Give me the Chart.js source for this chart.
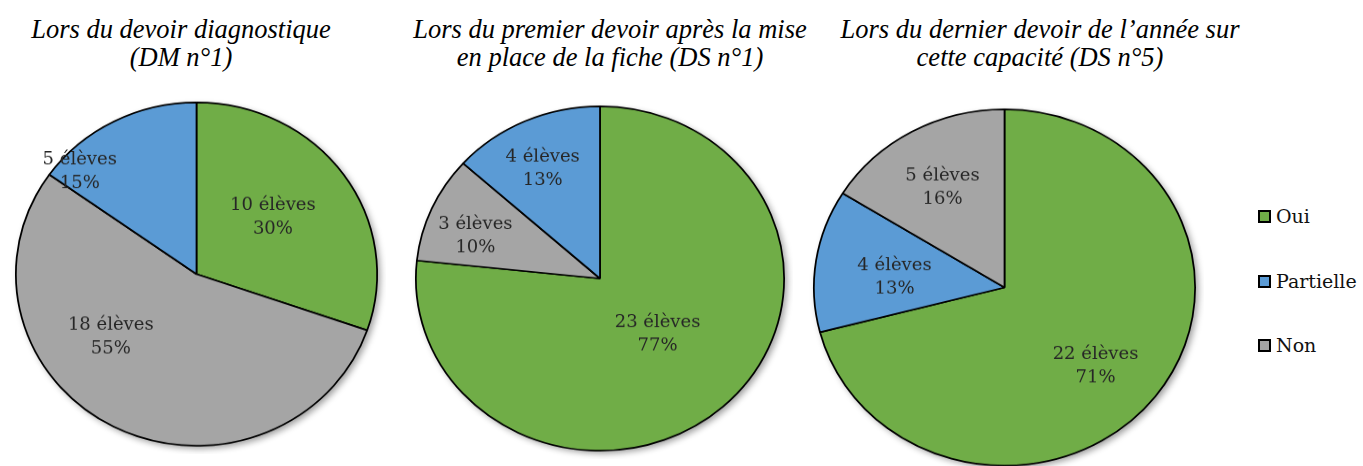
<!DOCTYPE html>
<html>
<head>
<meta charset="utf-8">
<script src="https://cdn.jsdelivr.net/npm/chart.js@4.4.0/dist/chart.umd.min.js"></script>
<style>
  html, body { margin: 0; padding: 0; background: #fff; }
  body { width: 1363px; height: 466px; position: relative; overflow: hidden; }
  .title {
    position: absolute; width: 460px; text-align: center;
    font-family: "Liberation Serif", "Times New Roman", serif; font-style: italic;
    font-size: 26.5px; line-height: 28px; color: #000;
  }
  .pie { position: absolute; transform-origin: 0 0; }
  .legend { position: absolute; left: 1258px; top: 0; font-family: "DejaVu Serif", serif; font-size: 19px; color: #111; }
  .legend .item { position: absolute; left: 0; white-space: nowrap; display: flex; align-items: center; }
  .legend .box { width: 13px; height: 13px; box-sizing: border-box; border: 2px solid #000; margin-right: 5px; }
</style>
</head>
<body>

<div class="title" style="left:-49px; top:15px;">Lors du devoir diagnostique<br>(DM n°1)</div>
<div class="title" style="left:380px; top:15px;">Lors du premier devoir après la mise<br>en place de la fiche (DS n°1)</div>
<div class="title" style="left:810px; top:15px;">Lors du dernier devoir de l’année sur<br>cette capacité (DS n°5)</div>

<div class="pie" id="wrap1"><canvas id="pie1"></canvas></div>
<div class="pie" id="wrap2"><canvas id="pie2"></canvas></div>
<div class="pie" id="wrap3"><canvas id="pie3"></canvas></div>

<div class="legend" id="legend"></div>

<script>
// données (nombre d'élèves par réponse)
const categories = ['Oui', 'Partielle', 'Non'];
const dmValues  = [10, 5, 18];   // DM n°1
const ds1Values = [23, 4, 3];    // DS n°1
const ds5Values = [22, 4, 5];    // DS n°5

// ordre des parts dans chaque camembert (sens horaire depuis midi)
const order1 = ['Oui', 'Non', 'Partielle'];
const order2 = ['Oui', 'Non', 'Partielle'];
const order3 = ['Oui', 'Partielle', 'Non'];

const colors = { Oui: '#70AD47', Partielle: '#5B9BD5', Non: '#A5A5A5' };

// placement des étiquettes : décalage d'angle (degrés) par rapport au milieu, fraction du rayon
const place1 = [[-3, 0.54], [25, 0.60], [-20, 0.88]];
const place2 = [[-2, 0.45], [-4, 0.72], [-2, 0.71]];
const place3 = [[5, 0.65], [-3, 0.58], [-1, 0.65]];

// ombre portée sous le disque
const shadowPlugin = {
    id: 'shadow',
    beforeDatasetsDraw(chart) {
        const arc = chart.getDatasetMeta(0).data[0];
        if (!arc) return;
        const ctx = chart.ctx;
        ctx.save();
        ctx.shadowColor = 'rgba(0,0,0,0.4)';
        ctx.shadowBlur = 7;
        ctx.shadowOffsetX = 3;
        ctx.shadowOffsetY = 3;
        ctx.fillStyle = '#fff';
        ctx.beginPath();
        ctx.arc(arc.x, arc.y, arc.outerRadius, 0, Math.PI * 2);
        ctx.fill();
        ctx.restore();
    }
};

// étiquettes "n élèves / p%"
const labelPlugin = {
    id: 'sliceLabels',
    afterDatasetsDraw(chart, args, opts) {
        const ctx = chart.ctx;
        const data = chart.data.datasets[0].data;
        const total = data.reduce((a, b) => a + b, 0);
        chart.getDatasetMeta(0).data.forEach((arc, i) => {
            const p = opts.place[i];
            const mid = (arc.startAngle + arc.endAngle) / 2 + p[0] * Math.PI / 180;
            const r = arc.outerRadius * p[1];
            const x = arc.x + Math.cos(mid) * r;
            const y = arc.y + Math.sin(mid) * r;
            ctx.save();
            ctx.fillStyle = '#262626';
            ctx.font = '18px "DejaVu Serif", serif';
            ctx.textAlign = 'center';
            ctx.textBaseline = 'middle';
            ctx.fillText(`${data[i]} élèves`, x, y - 12);
            ctx.fillText(`${Math.round(data[i] / total * 100)}%`, x, y + 13);
            ctx.restore();
        });
    }
};

function makePie(id, wrapId, values, order, place, geom) {
    const size = Math.round(geom.rx * 2 + 16);
    const k = geom.ry / geom.rx;
    const wrap = document.getElementById(wrapId);
    wrap.style.left = (geom.cx - size / 2) + 'px';
    wrap.style.top = (geom.cy - size * k / 2) + 'px';
    wrap.style.width = size + 'px';
    wrap.style.height = size + 'px';
    wrap.style.transform = `scaleY(${k})`;

    const canvas = document.getElementById(id);
    canvas.width = size;
    canvas.height = size;
    canvas.style.width = size + 'px';
    canvas.style.height = size + 'px';

    const data = order.map(c => values[categories.indexOf(c)]);
    return new Chart(canvas, {
        type: 'pie',
        data: {
            labels: order,
            datasets: [{
                data,
                backgroundColor: order.map(c => colors[c]),
                borderColor: '#000',
                borderWidth: 1.75
            }]
        },
        options: {
            responsive: false,
            animation: false,
            layout: { padding: 8 },
            plugins: {
                legend: { display: false },
                tooltip: { enabled: false },
                sliceLabels: { place }
            }
        },
        plugins: [shadowPlugin, labelPlugin]
    });
}

makePie('pie1', 'wrap1', dmValues, order1, place1, { cx: 196.5, cy: 274.5, rx: 181.5, ry: 172.5 });
makePie('pie2', 'wrap2', ds1Values, order2, place2, { cx: 599.5, cy: 278, rx: 185, ry: 173 });
makePie('pie3', 'wrap3', ds5Values, order3, place3, { cx: 1004.5, cy: 287, rx: 191.5, ry: 179 });

// légende
const legend = document.getElementById('legend');
const legendY = [216, 281, 345];
categories.forEach((c, i) => {
    const item = document.createElement('div');
    item.className = 'item';
    item.style.top = (legendY[i] - 12) + 'px';
    item.style.height = '24px';
    item.innerHTML = `<span class="box" style="background:${colors[c]}"></span><span>${c}</span>`;
    legend.appendChild(item);
});
</script>
</body>
</html>
